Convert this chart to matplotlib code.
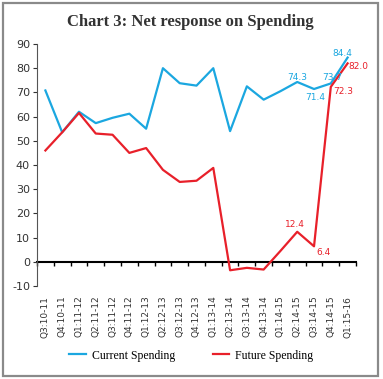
import numpy as np
import matplotlib
matplotlib.use("Agg")
import matplotlib.pyplot as plt
from matplotlib.patches import Rectangle

plt.rcParams["axes.unicode_minus"] = False

quarters = ["Q3:10-11", "Q4:10-11", "Q1:11-12", "Q2:11-12", "Q3:11-12", "Q4:11-12",
            "Q1:12-13", "Q2:12-13", "Q3:12-13", "Q4:12-13", "Q1:13-14", "Q2:13-14",
            "Q3:13-14", "Q4:13-14", "Q1:14-15", "Q2:14-15", "Q3:14-15", "Q4:14-15",
            "Q1:15-16"]
current = [70.8, 53.5, 62.0, 57.3, 59.5, 61.2, 55.0, 80.0, 73.8, 72.8, 80.0, 54.0,
           72.5, 67.0, 70.5, 74.3, 71.4, 73.7, 84.4]
future = [46.0, 53.5, 61.5, 53.0, 52.5, 45.0, 47.0, 38.0, 33.0, 33.5, 38.8, -3.5,
          -2.5, -3.2, 4.5, 12.4, 6.4, 72.3, 82.0]

BLUE = "#1ba7e0"
RED = "#e8202a"

fig = plt.figure(figsize=(3.83, 3.79), dpi=100)
ax = fig.add_axes([0.0966, 0.2454, 0.8329, 0.6385])
x = np.arange(len(quarters))
ax.plot(x, current, color=BLUE, lw=1.6, label="Current Spending")
ax.plot(x, future, color=RED, lw=1.6, label="Future Spending")

ax.set_xlim(-0.5, len(quarters) - 0.5)
ax.set_ylim(-10, 90)
ax.set_yticks(range(-10, 91, 10))
ax.tick_params(axis="y", labelsize=8, length=3, colors="#333333", pad=2)
ax.set_xticks(x)
ax.set_xticklabels(quarters, rotation=90, fontsize=6.5, color="#333333")
ax.tick_params(axis="x", length=0, pad=7)
for s in ["top", "right", "bottom"]:
    ax.spines[s].set_visible(False)
ax.spines["left"].set_color("#555555")

# zero line with ticks between the quarters
zero = ax.secondary_xaxis(0.1)
zero.set_xticks(np.arange(-0.5, len(quarters), 1))
zero.set_xticklabels([])
zero.tick_params(length=3, width=1, color="black")
zero.spines["bottom"].set_linewidth(1.5)
zero.spines["bottom"].set_color("black")

# data labels (index, offset in points)
lab_kw = dict(textcoords="offset points", fontsize=6.5, ha="center", va="center")
for i, off in [(18, (-4, 3)), (17, (1, 4.5)), (16, (0.5, -6)), (15, (0, 3.5))]:
    ax.annotate(f"{current[i]:.1f}", (i, current[i]), xytext=off, color=BLUE, **lab_kw)
for i, off in [(18, (8, -2)), (17, (9, -3.5)), (15, (-1.5, 5)), (16, (7, -4.5))]:
    ax.annotate(f"{future[i]:.1f}", (i, future[i]), xytext=off, color=RED, **lab_kw)

fig.text(0.497, 0.943, "Chart 3: Net response on Spending", ha="center", va="center",
         fontsize=12, fontweight="bold", family="Liberation Serif", color="#333333")

fig.legend(loc="center", bbox_to_anchor=(0.5, 0.062), ncol=2, frameon=False,
           prop={"family": "Liberation Serif", "size": 8.5}, handlelength=1.4,
           columnspacing=3.2, handletextpad=0.5)

fig.patches.append(Rectangle((0.008, 0.008), 0.979, 0.984, transform=fig.transFigure,
                             fill=False, edgecolor="#8a8a8a", lw=1.6))
fig.savefig("out.png", dpi=100)
